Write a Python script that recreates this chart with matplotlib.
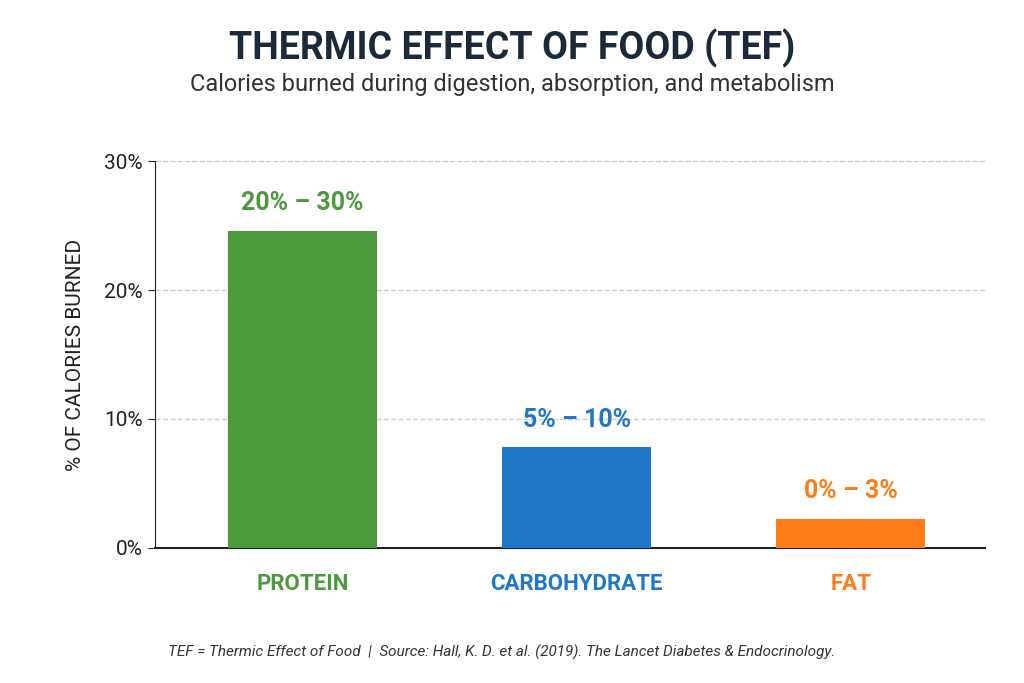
import matplotlib.pyplot as plt

categories = ["PROTEIN", "CARBOHYDRATE", "FAT"]
values = [24.6, 7.8, 2.25]
range_labels = ["20% – 30%", "5% – 10%", "0% – 3%"]
colors = ["#4b9a3d", "#1f77c9", "#fd7c18"]
yticks = [0, 10, 20, 30]

plt.rcParams['font.family'] = ['Roboto', 'DejaVu Sans']
fig = plt.figure(figsize=(10.24, 6.83), dpi=100)
ax = fig.add_axes([0.151, 0.198, 0.811, 0.566])

x = list(range(len(categories)))
ax.bar(x, values, width=0.545, color=colors, zorder=3)
for xi, v, lab, c in zip(x, values, range_labels, colors):
    ax.text(xi, v + 1.2, lab, ha='center', va='bottom', color=c,
            fontsize=18, fontweight='bold')

ax.set_xlim(-0.54, 2.49)
ax.set_ylim(0, 30)
ax.set_yticks(yticks)
ax.set_yticklabels([f"{t}%" for t in yticks], fontsize=15, color='#222222')
ax.set_xticks(x)
ax.set_xticklabels(categories, fontsize=16, fontweight='bold')
for t, c in zip(ax.get_xticklabels(), colors):
    t.set_color(c)
ax.tick_params(axis='x', length=0, pad=18)
ax.tick_params(axis='y', length=5, color='#222222')
ax.grid(axis='y', linestyle='--', color='#cccccc', linewidth=1, zorder=0)
for g in ax.get_ygridlines():
    g.set_clip_on(False)
for s in ['top', 'right']:
    ax.spines[s].set_visible(False)
ax.spines['left'].set_color('#222222')
ax.spines['bottom'].set_color('#222222')
ax.spines['bottom'].set_linewidth(1.5)
ax.set_ylabel("% OF CALORIES BURNED", fontsize=15, color='#222222', labelpad=14)

fig.text(0.5, 0.93, "THERMIC EFFECT OF FOOD (TEF)", ha='center', va='center',
         fontsize=27, fontweight='bold', color='#1b2a3b')
fig.text(0.5, 0.877, "Calories burned during digestion, absorption, and metabolism",
         ha='center', va='center', fontsize=17, color='#333333')
fig.text(0.49, 0.045, "TEF = Thermic Effect of Food  |  Source: Hall, K. D. et al. (2019). The Lancet Diabetes & Endocrinology.",
         ha='center', va='center', fontsize=11, style='italic', color='#333333')

fig.savefig("out.png", dpi=100)
